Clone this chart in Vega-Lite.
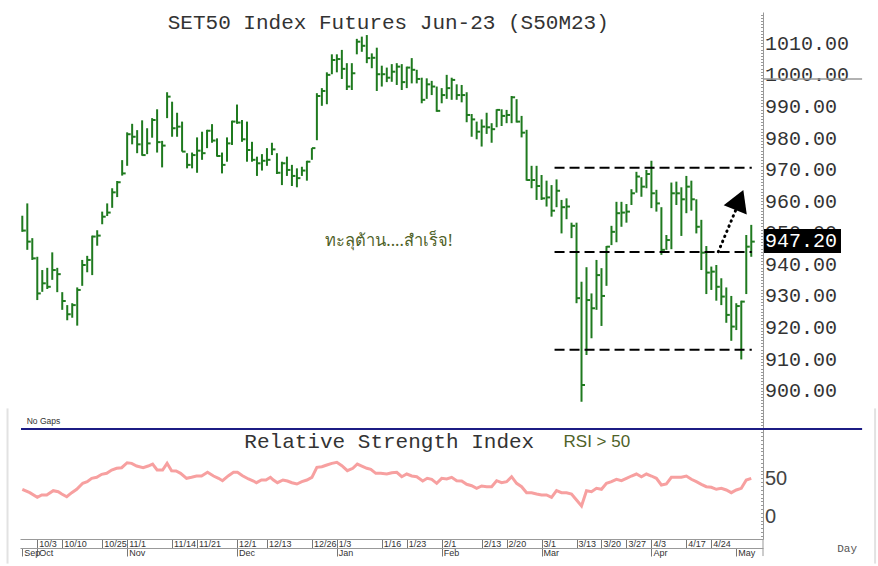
{
  "$schema": "https://vega.github.io/schema/vega-lite/v6.json",
  "width": 743,
  "height": 527,
  "autosize": {"type": "none"},
  "padding": {"left": 20, "top": 12, "right": 115, "bottom": 27},
  "background": "white",
  "config": {"view": {"stroke": null}, "font": "Liberation Sans"},
  "datasets": {
    "bars": [
      {"i":0,"h":955.4,"l":950.3,"c":950.7},{"i":1,"h":959.3,"l":944.6,"c":947.2},{"i":2,"h":948.3,"l":941.4,"c":941.9},{"i":3,"h":942.4,"l":928.7,"c":930.8},{"i":4,"h":938.2,"l":931.3,"c":934.0},{"i":5,"h":938.9,"l":932.2,"c":932.9},{"i":6,"h":943.8,"l":935.1,"c":938.2},{"i":7,"h":938.9,"l":931.2,"c":936.9},{"i":8,"h":931.2,"l":925.6,"c":928.4},{"i":9,"h":927.1,"l":922.3,"c":924.2},
      {"i":10,"h":927.7,"l":923.1,"c":927.1},{"i":11,"h":932.7,"l":920.6,"c":931.9},{"i":12,"h":941.4,"l":933.2,"c":939.8},{"i":13,"h":942.7,"l":937.5,"c":941.4},{"i":14,"h":949.1,"l":936.6,"c":948.8},{"i":15,"h":950.8,"l":945.9,"c":949.1},{"i":16,"h":956.7,"l":952.7,"c":955.1},{"i":17,"h":959.3,"l":955.3,"c":956.4},{"i":18,"h":964.1,"l":957.9,"c":962.8},{"i":19,"h":966.4,"l":961.3,"c":966.0},
      {"i":20,"h":973.0,"l":968.1,"c":968.8},{"i":21,"h":981.8,"l":971.2,"c":981.2},{"i":22,"h":984.5,"l":978.0,"c":980.4},{"i":23,"h":982.5,"l":975.2,"c":978.0},{"i":24,"h":985.6,"l":974.4,"c":974.6},{"i":25,"h":983.1,"l":974.9,"c":978.3},{"i":26,"h":986.3,"l":980.1,"c":985.7},{"i":27,"h":989.1,"l":975.4,"c":978.7},{"i":28,"h":979.1,"l":970.7,"c":977.6},{"i":29,"h":994.5,"l":986.3,"c":993.1},
      {"i":30,"h":991.5,"l":980.4,"c":983.1},{"i":31,"h":988.0,"l":980.4,"c":983.6},{"i":32,"h":985.2,"l":975.7,"c":975.7},{"i":33,"h":975.2,"l":970.4,"c":971.5},{"i":34,"h":975.4,"l":970.4,"c":974.6},{"i":35,"h":980.2,"l":969.0,"c":976.0},{"i":36,"h":982.0,"l":973.1,"c":975.2},{"i":37,"h":982.6,"l":976.8,"c":982.3},{"i":38,"h":984.4,"l":978.5,"c":979.2},{"i":39,"h":979.9,"l":974.1,"c":974.3},
      {"i":40,"h":975.4,"l":968.8,"c":971.5},{"i":41,"h":980.2,"l":972.5,"c":978.3},{"i":42,"h":985.5,"l":977.8,"c":985.2},{"i":43,"h":990.6,"l":984.5,"c":984.9},{"i":44,"h":985.7,"l":978.8,"c":979.6},{"i":45,"h":985.2,"l":972.5,"c":976.2},{"i":46,"h":978.8,"l":972.5,"c":973.1},{"i":47,"h":974.1,"l":968.0,"c":972.0},{"i":48,"h":974.9,"l":969.7,"c":972.8},{"i":49,"h":976.8,"l":971.2,"c":973.1},
      {"i":50,"h":978.5,"l":974.6,"c":976.4},{"i":51,"h":975.2,"l":968.6,"c":969.0},{"i":52,"h":972.5,"l":965.1,"c":972.0},{"i":53,"h":974.1,"l":968.0,"c":969.9},{"i":54,"h":971.5,"l":964.8,"c":968.0},{"i":55,"h":970.4,"l":964.4,"c":967.3},{"i":56,"h":970.9,"l":968.0,"c":969.7},{"i":57,"h":972.8,"l":966.5,"c":972.5},{"i":58,"h":976.8,"l":973.1,"c":976.8},{"i":59,"h":994.2,"l":979.3,"c":993.3},
      {"i":60,"h":995.8,"l":990.2,"c":994.9},{"i":61,"h":1000.8,"l":990.7,"c":1000.0},{"i":62,"h":1006.5,"l":1000.2,"c":1004.7},{"i":63,"h":1006.5,"l":1000.8,"c":1005.0},{"i":64,"h":1007.9,"l":998.7,"c":1001.9},{"i":65,"h":1003.7,"l":995.2,"c":996.3},{"i":66,"h":1003.7,"l":995.2,"c":1000.5},{"i":67,"h":1011.4,"l":1006.5,"c":1010.5},{"i":68,"h":1012.1,"l":1007.3,"c":1009.2},{"i":69,"h":1012.6,"l":1003.7,"c":1005.3},
      {"i":70,"h":1006.8,"l":1002.1,"c":1005.4},{"i":71,"h":1008.6,"l":994.9,"c":1000.2},{"i":72,"h":1002.9,"l":996.3,"c":1000.2},{"i":73,"h":1002.3,"l":997.7,"c":999.1},{"i":74,"h":1003.4,"l":997.8,"c":1001.0},{"i":75,"h":1003.7,"l":996.8,"c":1002.6},{"i":76,"h":1003.4,"l":995.2,"c":997.7},{"i":77,"h":1002.6,"l":995.8,"c":1002.3},{"i":78,"h":1005.3,"l":997.3,"c":1001.6},{"i":79,"h":1001.6,"l":997.3,"c":998.7},
      {"i":80,"h":999.1,"l":991.0,"c":992.1},{"i":81,"h":998.9,"l":992.4,"c":997.0},{"i":82,"h":998.1,"l":993.6,"c":996.3},{"i":83,"h":996.3,"l":988.3,"c":988.6},{"i":84,"h":995.8,"l":991.0,"c":993.6},{"i":85,"h":1000.0,"l":992.4,"c":995.8},{"i":86,"h":999.1,"l":992.1,"c":998.4},{"i":87,"h":997.0,"l":992.1,"c":993.6},{"i":88,"h":996.8,"l":991.3,"c":993.6},{"i":89,"h":994.5,"l":985.0,"c":987.3},
      {"i":90,"h":987.6,"l":980.4,"c":985.9},{"i":91,"h":985.2,"l":979.6,"c":982.0},{"i":92,"h":985.9,"l":977.3,"c":983.6},{"i":93,"h":988.0,"l":981.3,"c":983.4},{"i":94,"h":984.7,"l":978.5,"c":982.8},{"i":95,"h":989.1,"l":983.4,"c":988.9},{"i":96,"h":989.1,"l":983.8,"c":987.0},{"i":97,"h":988.9,"l":984.7,"c":987.3},{"i":98,"h":993.3,"l":984.7,"c":992.9},{"i":99,"h":992.3,"l":984.9,"c":985.2},
      {"i":100,"h":987.0,"l":980.2,"c":981.7},{"i":101,"h":982.6,"l":966.5,"c":966.7},{"i":102,"h":971.2,"l":964.1,"c":966.7},{"i":103,"h":971.2,"l":960.4,"c":964.8},{"i":104,"h":968.3,"l":960.4,"c":960.9},{"i":105,"h":966.5,"l":958.3,"c":961.2},{"i":106,"h":965.1,"l":955.1,"c":957.0},{"i":107,"h":966.9,"l":958.1,"c":963.3},{"i":108,"h":960.4,"l":949.8,"c":958.1},{"i":109,"h":960.9,"l":954.3,"c":958.3},
      {"i":110,"h":953.2,"l":948.3,"c":952.2},{"i":111,"h":953.2,"l":927.7,"c":929.3},{"i":112,"h":934.5,"l":896.5,"c":901.8},{"i":113,"h":939.1,"l":911.3,"c":928.7},{"i":114,"h":930.8,"l":916.6,"c":926.1},{"i":115,"h":941.4,"l":925.6,"c":936.6},{"i":116,"h":938.8,"l":920.5,"c":930.0},{"i":117,"h":945.8,"l":933.2,"c":945.6},{"i":118,"h":952.2,"l":946.1,"c":950.3},{"i":119,"h":959.8,"l":947.0,"c":956.2},
      {"i":120,"h":959.8,"l":951.9,"c":956.4},{"i":121,"h":959.1,"l":953.2,"c":956.7},{"i":122,"h":963.8,"l":958.8,"c":962.5},{"i":123,"h":969.3,"l":962.7,"c":967.8},{"i":124,"h":967.6,"l":961.4,"c":964.6},{"i":125,"h":969.9,"l":964.1,"c":968.6},{"i":126,"h":972.8,"l":957.8,"c":962.5},{"i":127,"h":963.6,"l":956.7,"c":959.3},{"i":128,"h":958.1,"l":943.0,"c":944.6},{"i":129,"h":949.3,"l":944.6,"c":947.7},
      {"i":130,"h":965.9,"l":944.8,"c":962.5},{"i":131,"h":966.2,"l":958.8,"c":962.5},{"i":132,"h":964.4,"l":949.0,"c":960.6},{"i":133,"h":968.0,"l":956.2,"c":964.6},{"i":134,"h":966.5,"l":957.0,"c":960.6},{"i":135,"h":960.6,"l":949.8,"c":951.9},{"i":136,"h":954.1,"l":938.2,"c":943.7},{"i":137,"h":945.8,"l":930.6,"c":937.4},{"i":138,"h":939.3,"l":931.9,"c":937.7},{"i":139,"h":939.8,"l":928.5,"c":932.9},
      {"i":140,"h":935.6,"l":927.1,"c":929.8},{"i":141,"h":932.7,"l":921.5,"c":924.0},{"i":142,"h":930.0,"l":915.8,"c":920.3},{"i":143,"h":927.7,"l":919.2,"c":926.8},{"i":144,"h":928.5,"l":909.9,"c":928.2},{"i":145,"h":949.3,"l":930.6,"c":945.6},{"i":146,"h":952.5,"l":942.4,"c":947.2}
    ],
    "rsi": [
      {"i":0,"r":35.7},{"i":1.5,"r":31.3},{"i":3,"r":25.2},{"i":3.9,"r":28.3},{"i":4.9,"r":28.3},{"i":6.2,"r":33.9},{"i":7.2,"r":32.6},{"i":7.9,"r":29.6},{"i":8.9,"r":26.0},{"i":9.9,"r":31.3},
      {"i":10.9,"r":35.7},{"i":12.1,"r":43.5},{"i":13,"r":45.6},{"i":13.9,"r":50.0},{"i":14.9,"r":51.3},{"i":15.9,"r":55.2},{"i":16.9,"r":56.5},{"i":17.9,"r":60.8},{"i":18.9,"r":63.0},{"i":19.9,"r":63.8},
      {"i":21,"r":70.3},{"i":21.9,"r":69.5},{"i":22.9,"r":66.0},{"i":24.2,"r":63.8},{"i":25.2,"r":66.0},{"i":26.1,"r":68.6},{"i":27,"r":60.8},{"i":28.1,"r":60.8},{"i":29,"r":69.5},{"i":29.9,"r":59.9},
      {"i":30.8,"r":59.5},{"i":31.7,"r":56.5},{"i":32.9,"r":50.0},{"i":33.9,"r":51.3},{"i":34.9,"r":53.0},{"i":35.9,"r":53.0},{"i":37.1,"r":57.8},{"i":38.3,"r":53.0},{"i":39.3,"r":50.0},{"i":40.1,"r":46.9},
      {"i":41.3,"r":53.4},{"i":42.3,"r":57.8},{"i":43.1,"r":57.8},{"i":44.1,"r":53.4},{"i":45.3,"r":49.1},{"i":46.3,"r":46.5},{"i":46.9,"r":44.3},{"i":47.9,"r":47.8},{"i":48.8,"r":47.8},{"i":49.7,"r":51.3},
      {"i":50.3,"r":47.8},{"i":51.1,"r":44.3},{"i":52.2,"r":47.8},{"i":53.1,"r":46.5},{"i":54,"r":44.3},{"i":55,"r":42.6},{"i":56,"r":45.6},{"i":57,"r":47.8},{"i":58,"r":51.3},{"i":59,"r":64.3},
      {"i":60,"r":65.1},{"i":61,"r":67.3},{"i":62,"r":69.5},{"i":63,"r":70.8},{"i":64,"r":66.4},{"i":65.1,"r":59.9},{"i":66.2,"r":63.0},{"i":67.1,"r":68.6},{"i":68,"r":66.0},{"i":69,"r":63.0},
      {"i":69.8,"r":61.7},{"i":70.8,"r":56.5},{"i":71.8,"r":56.5},{"i":73,"r":55.6},{"i":74,"r":57.3},{"i":75,"r":57.8},{"i":76,"r":52.1},{"i":77,"r":55.6},{"i":78,"r":53.0},{"i":79,"r":52.1},
      {"i":80.2,"r":46.5},{"i":81.1,"r":50.0},{"i":82,"r":48.7},{"i":83,"r":43.5},{"i":84,"r":50.0},{"i":85,"r":49.1},{"i":86,"r":51.3},{"i":87,"r":46.9},{"i":88,"r":46.5},{"i":89,"r":42.2},
      {"i":90,"r":40.4},{"i":91,"r":37.0},{"i":92,"r":40.0},{"i":93,"r":39.1},{"i":94,"r":39.1},{"i":95,"r":46.9},{"i":96,"r":44.3},{"i":97,"r":45.6},{"i":98,"r":52.1},{"i":99,"r":43.5},
      {"i":100,"r":39.1},{"i":101,"r":31.3},{"i":102,"r":31.3},{"i":103,"r":29.6},{"i":104,"r":28.3},{"i":105,"r":28.3},{"i":106,"r":25.2},{"i":107,"r":33.9},{"i":108,"r":31.3},{"i":109,"r":31.3},
      {"i":110,"r":29.6},{"i":111,"r":21.7},{"i":112,"r":13.9},{"i":113,"r":33.9},{"i":114,"r":32.6},{"i":115,"r":37.0},{"i":116,"r":35.7},{"i":117,"r":43.5},{"i":118,"r":45.6},{"i":119,"r":48.7},
      {"i":120,"r":46.9},{"i":121,"r":50.0},{"i":122,"r":53.0},{"i":123,"r":55.6},{"i":124,"r":52.1},{"i":125,"r":55.6},{"i":126,"r":53.0},{"i":127,"r":50.0},{"i":128,"r":41.3},{"i":129,"r":42.6},
      {"i":130,"r":51.3},{"i":131,"r":51.3},{"i":132,"r":51.3},{"i":133,"r":53.0},{"i":134,"r":48.7},{"i":135,"r":45.6},{"i":136,"r":42.2},{"i":137,"r":39.1},{"i":138,"r":38.3},{"i":139,"r":35.7},
      {"i":140,"r":37.0},{"i":141,"r":34.8},{"i":142,"r":31.3},{"i":143,"r":34.8},{"i":144,"r":37.0},{"i":145,"r":47.8},{"i":146,"r":50.0}
    ],
    "levels": [{"p": 970.6}, {"p": 943.9}, {"p": 913.0}],
    "one": [{"k": 1}]
  },
  "layer": [
    {
      "data": {"name": "bars"},
      "mark": {"type": "rule", "color": "#1f7a1f", "strokeWidth": 2},
      "encoding": {
        "x": {"field": "i", "type": "quantitative", "scale": {"domain": [-0.461, 148.35], "nice": false, "zero": false}, "axis": null},
        "y": {"field": "l", "type": "quantitative", "scale": {"domain": [888.19, 1019.9], "range": [416, 0], "nice": false, "zero": false},
          "axis": {
            "orient": "right", "title": null, "grid": false,
            "values": [889,890,891,892,893,894,895,896,897,898,899,900,901,902,903,904,905,906,907,908,909,910,911,912,913,914,915,916,917,918,919,920,921,922,923,924,925,926,927,928,929,930,931,932,933,934,935,936,937,938,939,940,941,942,943,944,945,946,947,948,949,950,951,952,953,954,955,956,957,958,959,960,961,962,963,964,965,966,967,968,969,970,971,972,973,974,975,976,977,978,979,980,981,982,983,984,985,986,987,988,989,990,991,992,993,994,995,996,997,998,999,1000,1001,1002,1003,1004,1005,1006,1007,1008,1009,1010,1011,1012,1013,1014,1015,1016,1017,1018,1019],
            "labelExpr": "datum.value % 10 === 0 && datum.value >= 900 && datum.value <= 1010 ? format(datum.value, '.2f') : ''",
            "labelOverlap": false, "labelFont": "Liberation Mono", "labelFontSize": 20, "labelColor": "#333333",
            "labelAlign": "left", "labelBaseline": "middle", "labelPadding": 4,
            "tickSize": -2.5, "tickColor": "#999999", "domainColor": "#999999", "domainWidth": 1
          }
        },
        "y2": {"field": "h"}
      }
    },
    {
      "data": {"name": "bars"},
      "mark": {"type": "rule", "color": "#1f7a1f", "strokeWidth": 2, "x2Offset": 3.5},
      "encoding": {
        "x": {"field": "i", "type": "quantitative", "scale": {"domain": [-0.461, 148.35], "nice": false, "zero": false}, "axis": null},
        "x2": {"field": "i"},
        "y": {"field": "c", "type": "quantitative", "scale": {"domain": [888.19, 1019.9], "range": [416, 0], "nice": false, "zero": false}, "axis": null}
      }
    },
    {
      "data": {"name": "levels"},
      "mark": {"type": "rule", "color": "#000000", "strokeWidth": 2, "strokeDash": [10, 5]},
      "encoding": {
        "x": {"datum": 106.6, "type": "quantitative", "scale": {"domain": [-0.461, 148.35], "nice": false, "zero": false}, "axis": null},
        "x2": {"datum": 146.1},
        "y": {"field": "p", "type": "quantitative", "scale": {"domain": [888.19, 1019.9], "range": [416, 0], "nice": false, "zero": false}, "axis": null}
      }
    },
    {
      "data": {"name": "one"},
      "mark": {"type": "rule", "color": "#000000", "strokeWidth": 3, "strokeDash": [0.5, 5], "strokeCap": "round"},
      "encoding": {
        "x": {"datum": 139.4, "type": "quantitative", "scale": {"domain": [-0.461, 148.35], "nice": false, "zero": false}, "axis": null},
        "x2": {"datum": 143.0},
        "y": {"datum": 944.0, "type": "quantitative", "scale": {"domain": [888.19, 1019.9], "range": [416, 0], "nice": false, "zero": false}, "axis": null},
        "y2": {"datum": 957.6}
      }
    },
    {
      "data": {"name": "one"},
      "mark": {"type": "point", "shape": "triangle-up", "filled": true, "color": "#000000", "opacity": 1, "size": 620, "angle": 22},
      "encoding": {
        "x": {"datum": 143.6, "type": "quantitative", "scale": {"domain": [-0.461, 148.35], "nice": false, "zero": false}, "axis": null},
        "y": {"datum": 960.4, "type": "quantitative", "scale": {"domain": [888.19, 1019.9], "range": [416, 0], "nice": false, "zero": false}, "axis": null}
      }
    },
    {
      "data": {"name": "one"},
      "mark": {"type": "rule", "color": "#999999", "strokeWidth": 1.5},
      "encoding": {
        "x": {"datum": 148.35, "type": "quantitative", "scale": {"domain": [-0.461, 148.35], "nice": false, "zero": false}, "axis": null},
        "x2": {"datum": 168.2},
        "y": {"datum": 998.7, "type": "quantitative", "scale": {"domain": [888.19, 1019.9], "range": [416, 0], "nice": false, "zero": false}, "axis": null}
      }
    },
    {
      "data": {"name": "one"},
      "mark": {"type": "rect", "color": "#000000"},
      "encoding": {
        "x": {"datum": 148.55, "type": "quantitative", "scale": {"domain": [-0.461, 148.35], "nice": false, "zero": false}, "axis": null},
        "x2": {"datum": 163.97},
        "y": {"datum": 943.6, "type": "quantitative", "scale": {"domain": [888.19, 1019.9], "range": [416, 0], "nice": false, "zero": false}, "axis": null},
        "y2": {"datum": 951.2}
      }
    },
    {
      "data": {"name": "one"},
      "mark": {"type": "text", "text": "947.20", "font": "Liberation Mono", "fontSize": 20, "color": "#ffffff", "align": "left", "baseline": "middle"},
      "encoding": {
        "x": {"datum": 148.75, "type": "quantitative", "scale": {"domain": [-0.461, 148.35], "nice": false, "zero": false}, "axis": null},
        "y": {"datum": 947.4, "type": "quantitative", "scale": {"domain": [888.19, 1019.9], "range": [416, 0], "nice": false, "zero": false}, "axis": null}
      }
    },
    {
      "data": {"name": "one"},
      "mark": {"type": "text", "text": "SET50 Index Futures Jun-23 (S50M23)", "font": "Liberation Mono", "fontSize": 21, "color": "#333333", "align": "center", "baseline": "middle"},
      "encoding": {
        "x": {"datum": 73.3, "type": "quantitative", "scale": {"domain": [-0.461, 148.35], "nice": false, "zero": false}, "axis": null},
        "y": {"datum": 1016.4, "type": "quantitative", "scale": {"domain": [888.19, 1019.9], "range": [416, 0], "nice": false, "zero": false}, "axis": null}
      }
    },
    {
      "data": {"name": "one"},
      "mark": {"type": "text", "text": "ทะลุต้าน....สำเร็จ!", "font": "Noto Sans", "fontSize": 16.5, "color": "#4f6228", "align": "center", "baseline": "middle"},
      "encoding": {
        "x": {"datum": 73.4, "type": "quantitative", "scale": {"domain": [-0.461, 148.35], "nice": false, "zero": false}, "axis": null},
        "y": {"datum": 947.4, "type": "quantitative", "scale": {"domain": [888.19, 1019.9], "range": [416, 0], "nice": false, "zero": false}, "axis": null}
      }
    },
    {
      "data": {"name": "one"},
      "mark": {"type": "text", "text": "No  Gaps", "font": "Liberation Sans", "fontSize": 8.5, "color": "#333333", "align": "left", "baseline": "middle"},
      "encoding": {
        "x": {"datum": 0.88, "type": "quantitative", "scale": {"domain": [-0.461, 148.35], "nice": false, "zero": false}, "axis": null},
        "y": {"datum": 890.4, "type": "quantitative", "scale": {"domain": [888.19, 1019.9], "range": [416, 0], "nice": false, "zero": false}, "axis": null}
      }
    },
    {
      "data": {"name": "rsi"},
      "mark": {"type": "line", "color": "#f7a0a0", "strokeWidth": 3},
      "encoding": {
        "x": {"field": "i", "type": "quantitative", "scale": {"domain": [-0.461, 148.35], "nice": false, "zero": false},
          "axis": {
            "orient": "bottom", "title": null, "grid": false,
            "values": [3, 8, 16, 21, 30, 35, 43, 49, 58, 63, 72, 77, 84, 92, 97, 104, 111, 116, 121, 126, 133, 138],
            "labelExpr": "['10/3','10/10','10/25','11/1','11/14','11/21','12/1','12/13','12/26','1/3','1/16','1/23','2/1','2/13','2/20','3/1','3/13','3/20','3/27','4/3','4/17','4/24'][indexof([3, 8, 16, 21, 30, 35, 43, 49, 58, 63, 72, 77, 84, 92, 97, 104, 111, 116, 121, 126, 133, 138], datum.value)]",
            "labelOverlap": false, "labelFlush": false, "labelFont": "Liberation Sans", "labelFontSize": 9, "labelColor": "#333333",
            "labelAlign": "left", "labelBaseline": "middle", "labelPadding": -4.5, "labelOffset": 1.5,
            "tickSize": 9, "tickColor": "#777777", "domainColor": "#999999"
          }
        },
        "y": {"field": "r", "type": "quantitative", "scale": {"domain": [-29.0, 114.2], "range": [527, 417], "nice": false, "zero": false},
          "axis": {
            "orient": "right", "title": null, "grid": false,
            "values": [-25,-20,-15,-10,-5,0,5,10,15,20,25,30,35,40,45,50,55,60,65,70,75,80,85,90,95,100,105,110],
            "labelExpr": "indexof([0, 50], datum.value) >= 0 ? format(datum.value, 'd') : ''",
            "labelOverlap": false, "labelFont": "Liberation Sans", "labelFontSize": 20, "labelColor": "#444444",
            "labelAlign": "left", "labelBaseline": "middle", "labelPadding": 4,
            "tickSize": -2.5, "tickColor": "#999999", "domainColor": "#999999"
          }
        }
      }
    },
    {
      "data": {"name": "rsi"},
      "mark": {"type": "point", "opacity": 0},
      "encoding": {
        "x": {"field": "i", "type": "quantitative", "scale": {"domain": [-0.461, 148.35], "nice": false, "zero": false},
          "axis": {
            "orient": "bottom", "offset": 9, "title": null, "grid": false,
            "values": [0, 3, 21, 43, 63, 84, 104, 126, 143],
            "labelExpr": "['Sep','Oct','Nov','Dec','Jan','Feb','Mar','Apr','May'][indexof([0, 3, 21, 43, 63, 84, 104, 126, 143], datum.value)]",
            "labelOverlap": false, "labelFlush": false, "labelFont": "Liberation Sans", "labelFontSize": 9, "labelColor": "#333333",
            "labelAlign": "left", "labelBaseline": "middle", "labelPadding": -4, "labelOffset": 1.5,
            "tickSize": 8, "tickColor": "#777777", "domainColor": "#999999"
          }
        },
        "y": {"field": "r", "type": "quantitative", "scale": {"domain": [-29.0, 114.2], "range": [527, 417], "nice": false, "zero": false}, "axis": null}
      }
    },
    {
      "data": {"name": "one"},
      "mark": {"type": "text", "text": "Relative Strength Index", "font": "Liberation Mono", "fontSize": 21, "color": "#333333", "align": "center", "baseline": "middle"},
      "encoding": {
        "x": {"datum": 73.5, "type": "quantitative", "scale": {"domain": [-0.461, 148.35], "nice": false, "zero": false}, "axis": null},
        "y": {"datum": 97.3, "type": "quantitative", "scale": {"domain": [-29.0, 114.2], "range": [527, 417], "nice": false, "zero": false}, "axis": null}
      }
    },
    {
      "data": {"name": "one"},
      "mark": {"type": "text", "text": "RSI > 50", "font": "Liberation Sans", "fontSize": 17, "color": "#4f6228", "align": "left", "baseline": "middle"},
      "encoding": {
        "x": {"datum": 108.4, "type": "quantitative", "scale": {"domain": [-0.461, 148.35], "nice": false, "zero": false}, "axis": null},
        "y": {"datum": 97.3, "type": "quantitative", "scale": {"domain": [-29.0, 114.2], "range": [527, 417], "nice": false, "zero": false}, "axis": null}
      }
    },
    {
      "data": {"name": "one"},
      "mark": {"type": "text", "text": "Day", "font": "Liberation Mono", "fontSize": 11, "color": "#555555", "align": "center", "baseline": "middle"},
      "encoding": {
        "x": {"datum": 165.2, "type": "quantitative", "scale": {"domain": [-0.461, 148.35], "nice": false, "zero": false}, "axis": null},
        "y": {"datum": -42.1, "type": "quantitative", "scale": {"domain": [-29.0, 114.2], "range": [527, 417], "nice": false, "zero": false}, "axis": null}
      }
    },
    {
      "data": {"name": "one"},
      "mark": {"type": "rule", "color": "#1c1c84", "strokeWidth": 2},
      "encoding": {
        "x": {"datum": -0.26, "type": "quantitative", "scale": {"domain": [-0.461, 148.35], "nice": false, "zero": false}, "axis": null},
        "x2": {"datum": 168.2},
        "y": {"datum": 114.2, "type": "quantitative", "scale": {"domain": [-29.0, 114.2], "range": [527, 417], "nice": false, "zero": false}, "axis": null}
      }
    },
    {
      "data": {"name": "one"},
      "mark": {"type": "rule", "color": "#999999", "strokeWidth": 1},
      "encoding": {
        "x": {"datum": 148.35, "type": "quantitative", "scale": {"domain": [-0.461, 148.35], "nice": false, "zero": false}, "axis": null},
        "y": {"datum": -29.0, "type": "quantitative", "scale": {"domain": [-29.0, 114.2], "range": [527, 417], "nice": false, "zero": false}, "axis": null},
        "y2": {"datum": -51.2}
      }
    },
    {
      "data": {"name": "one"},
      "mark": {"type": "rule", "color": "#e2e2e2", "strokeWidth": 2},
      "encoding": {
        "x": {"datum": -2.96, "type": "quantitative", "scale": {"domain": [-0.461, 148.35], "nice": false, "zero": false}, "axis": null},
        "y": {"datum": 141.0, "type": "quantitative", "scale": {"domain": [-29.0, 114.2], "range": [527, 417], "nice": false, "zero": false}, "axis": null},
        "y2": {"datum": -61.0}
      }
    },
    {
      "data": {"name": "one"},
      "mark": {"type": "rule", "color": "#e2e2e2", "strokeWidth": 2},
      "encoding": {
        "x": {"datum": 170.8, "type": "quantitative", "scale": {"domain": [-0.461, 148.35], "nice": false, "zero": false}, "axis": null},
        "y": {"datum": 141.0, "type": "quantitative", "scale": {"domain": [-29.0, 114.2], "range": [527, 417], "nice": false, "zero": false}, "axis": null},
        "y2": {"datum": -61.0}
      }
    }
  ],
  "resolve": {"scale": {"y": "independent"}, "axis": {"x": "independent", "y": "independent"}}
}
